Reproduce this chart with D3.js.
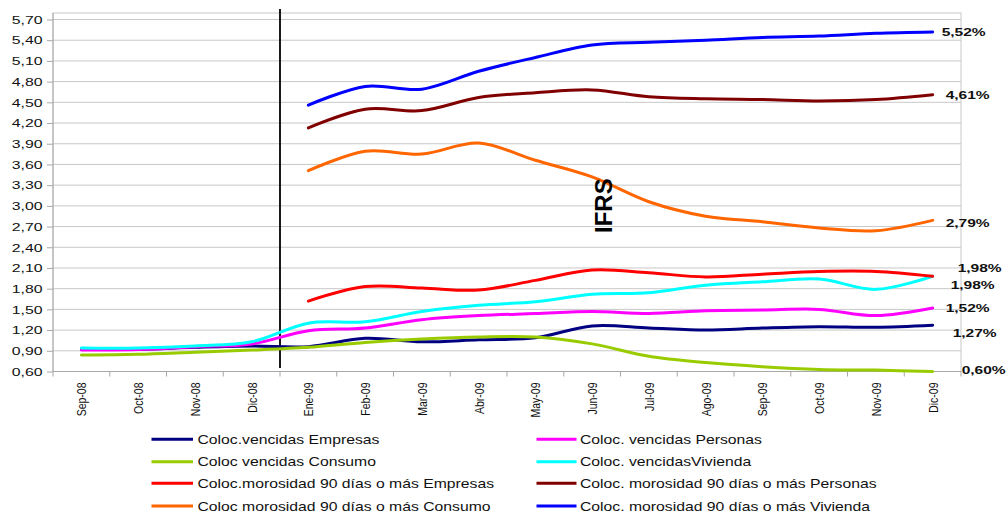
<!DOCTYPE html>
<html>
<head>
<meta charset="utf-8">
<script src="https://cdn.jsdelivr.net/npm/d3@7"></script>
<style>
  html, body { margin: 0; padding: 0; background: #fff; }
  svg { display: block; font-family: "Liberation Sans", Arial, sans-serif; }
</style>
</head>
<body>
<svg id="chart" width="1006" height="515"></svg>
<script>
// Months on the horizontal axis
const months = ["Sep-08","Oct-08","Nov-08","Dic-08","Ene-09","Feb-09","Mar-09","Abr-09",
                "May-09","Jun-09","Jul-09","Ago-09","Sep-09","Oct-09","Nov-09","Dic-09"];

// Vertical axis tick values
const yTicks = [0.60,0.90,1.20,1.50,1.80,2.10,2.40,2.70,3.00,3.30,3.60,3.90,4.20,4.50,4.80,5.10,5.40,5.70];

// Series values (%); null = not reported before the IFRS change
const vencEmpresas  = [0.92,0.92,0.95,0.97,0.96,1.08,1.03,1.06,1.09,1.26,1.23,1.20,1.23,1.25,1.24,1.27];
const vencPersonas  = [0.91,0.92,0.96,1.00,1.19,1.23,1.35,1.41,1.44,1.47,1.44,1.48,1.49,1.50,1.41,1.52];
const vencConsumo   = [0.84,0.85,0.88,0.91,0.95,1.02,1.07,1.10,1.10,1.00,0.82,0.73,0.67,0.63,0.62,0.60];
const vencVivienda  = [0.94,0.94,0.97,1.03,1.30,1.32,1.47,1.56,1.61,1.72,1.74,1.85,1.90,1.94,1.79,1.98];
const morEmpresas   = [null,null,null,null,1.62,1.83,1.81,1.78,1.92,2.07,2.03,1.97,2.01,2.05,2.05,1.98];
const morPersonas   = [null,null,null,null,4.13,4.40,4.38,4.57,4.64,4.68,4.58,4.55,4.54,4.52,4.54,4.61];
const morConsumo    = [null,null,null,null,3.51,3.79,3.75,3.91,3.66,3.42,3.06,2.85,2.77,2.68,2.64,2.79];
const morVivienda   = [null,null,null,null,4.46,4.73,4.69,4.95,5.15,5.33,5.37,5.40,5.44,5.46,5.50,5.52];

const seriesNames = [
  "Coloc.vencidas Empresas", "Coloc. vencidas Personas",
  "Coloc vencidas Consumo", "Coloc. vencidasVivienda",
  "Coloc.morosidad 90 días o más Empresas", "Coloc. morosidad 90 días o más Personas",
  "Coloc morosidad 90 días o más Consumo", "Coloc. morosidad 90 días o más Vivienda"
];
const seriesValues = [vencEmpresas, vencPersonas, vencConsumo, vencVivienda,
                      morEmpresas, morPersonas, morConsumo, morVivienda];
const seriesColors = ["#000080","#ff00ff","#99cc00","#00ffff","#ff0000","#800000","#ff6600","#0000ff"];

// Hand-placed nudges for the end-of-line value labels [dx, dy]
const endLabelNudge = [[20,8],[13,0],[29,-2],[18,9],[25,-8],[13,0],[13,2],[9,0]];

const eventLabel = "IFRS";

// ---- layout ----
const svg = d3.select("#chart");
const plot = { left: 53, right: 961, top: 13, bottom: 371.5 };
const TX = 1.34; // horizontal stretch applied to horizontal text

const x = d3.scaleBand().domain(months).range([plot.left, plot.right]).padding(0);
const y = d3.scaleLinear().domain([0.6, 5.7]).range([plot.bottom, 19.5]);
const xc = m => x(m) + x.bandwidth() / 2;

// plot frame
svg.append("rect")
  .attr("x", plot.left).attr("y", plot.top)
  .attr("width", plot.right - plot.left).attr("height", plot.bottom - plot.top)
  .attr("fill", "none").attr("stroke", "#c8c8c8").attr("stroke-width", 1);

// horizontal gridlines
svg.append("g").selectAll("line").data(yTicks).join("line")
  .attr("x1", plot.left).attr("x2", plot.right)
  .attr("y1", d => y(d)).attr("y2", d => y(d))
  .attr("stroke", "#c8c8c8").attr("stroke-width", 1);

// y axis
const yAxis = svg.append("g").attr("transform", `translate(${plot.left},0)`)
  .call(d3.axisLeft(y).tickValues(yTicks).tickSize(6).tickFormat(() => ""));
yAxis.select(".domain").attr("stroke", "#a8a8a8").attr("d", `M0,${plot.top}V${plot.bottom}`);
yAxis.selectAll(".tick line").attr("stroke", "#a8a8a8");
svg.append("g").selectAll("text").data(yTicks).join("text")
  .attr("transform", d => `translate(42.5,${y(d)}) scale(${TX},1)`)
  .attr("dy", "0.36em").attr("text-anchor", "end")
  .attr("font-size", 11.8).attr("fill", "#111")
  .text(d => d3.format(".2f")(d).replace(".", ","));

// x axis: ticks at category boundaries
const xAxis = svg.append("g").attr("transform", `translate(0,${plot.bottom})`);
xAxis.append("path").attr("d", `M${plot.left},0H${plot.right}`).attr("stroke", "#a8a8a8").attr("fill", "none");
xAxis.selectAll("line").data(months.concat(["__end"])).join("line")
  .attr("x1", (d, i) => i < months.length ? x(d) : plot.right)
  .attr("x2", (d, i) => i < months.length ? x(d) : plot.right)
  .attr("y1", 0).attr("y2", 5).attr("stroke", "#a8a8a8");
svg.append("g").selectAll("text").data(months).join("text")
  .attr("transform", d => `translate(${xc(d)},382.5) rotate(-90) scale(1,1.3)`)
  .attr("dy", "0.36em").attr("text-anchor", "end")
  .attr("font-size", 10.5).attr("fill", "#111")
  .text(d => d);

// IFRS separator
svg.append("line")
  .attr("x1", x("Ene-09")).attr("x2", x("Ene-09"))
  .attr("y1", 9).attr("y2", 368)
  .attr("stroke", "#000").attr("stroke-width", 1.8);

// series lines
const line = d3.line()
  .defined(d => d.v != null)
  .x(d => xc(d.m)).y(d => y(d.v))
  .curve(d3.curveCatmullRom.alpha(0));

svg.append("g").selectAll("path").data(seriesValues).join("path")
  .attr("d", vals => line(vals.map((v, i) => ({ m: months[i], v }))))
  .attr("fill", "none")
  .attr("stroke", (d, i) => seriesColors[i])
  .attr("stroke-width", 3)
  .attr("stroke-linejoin", "round").attr("stroke-linecap", "round");

// end-of-line value labels
const lastMonth = months[months.length - 1];
svg.append("g").selectAll("text").data(seriesValues).join("text")
  .attr("transform", (vals, i) =>
    `translate(${xc(lastMonth) + endLabelNudge[i][0]},${y(vals[vals.length - 1]) + endLabelNudge[i][1]}) scale(${TX},1)`)
  .attr("dy", "0.36em")
  .attr("font-size", 11.6).attr("font-weight", "bold").attr("fill", "#111")
  .text(vals => d3.format(".2f")(vals[vals.length - 1]).replace(".", ",") + "%");

// IFRS caption
svg.append("text")
  .attr("transform", "translate(611.5,233) rotate(-90)")
  .attr("font-size", 24).attr("font-weight", "bold").attr("fill", "#000")
  .text(eventLabel);

// legend: two columns, four rows
const legendCols = [151.5, 536.5];
const legendRows = [439.3, 461.7, 483.3, 506];
const legend = svg.append("g").selectAll("g").data(seriesNames).join("g")
  .attr("transform", (d, i) => `translate(${legendCols[i % 2]},${legendRows[Math.floor(i / 2)]})`);
legend.append("line")
  .attr("x1", 0).attr("x2", (d, i) => i % 2 ? 40 : 41.5)
  .attr("stroke", (d, i) => seriesColors[i]).attr("stroke-width", 3);
legend.append("text")
  .attr("transform", (d, i) => `translate(${i % 2 ? 43.5 : 46},0) scale(1.25,1)`)
  .attr("dy", "0.36em")
  .attr("font-size", 12.6).attr("fill", "#111")
  .text(d => d);
</script>
</body>
</html>
